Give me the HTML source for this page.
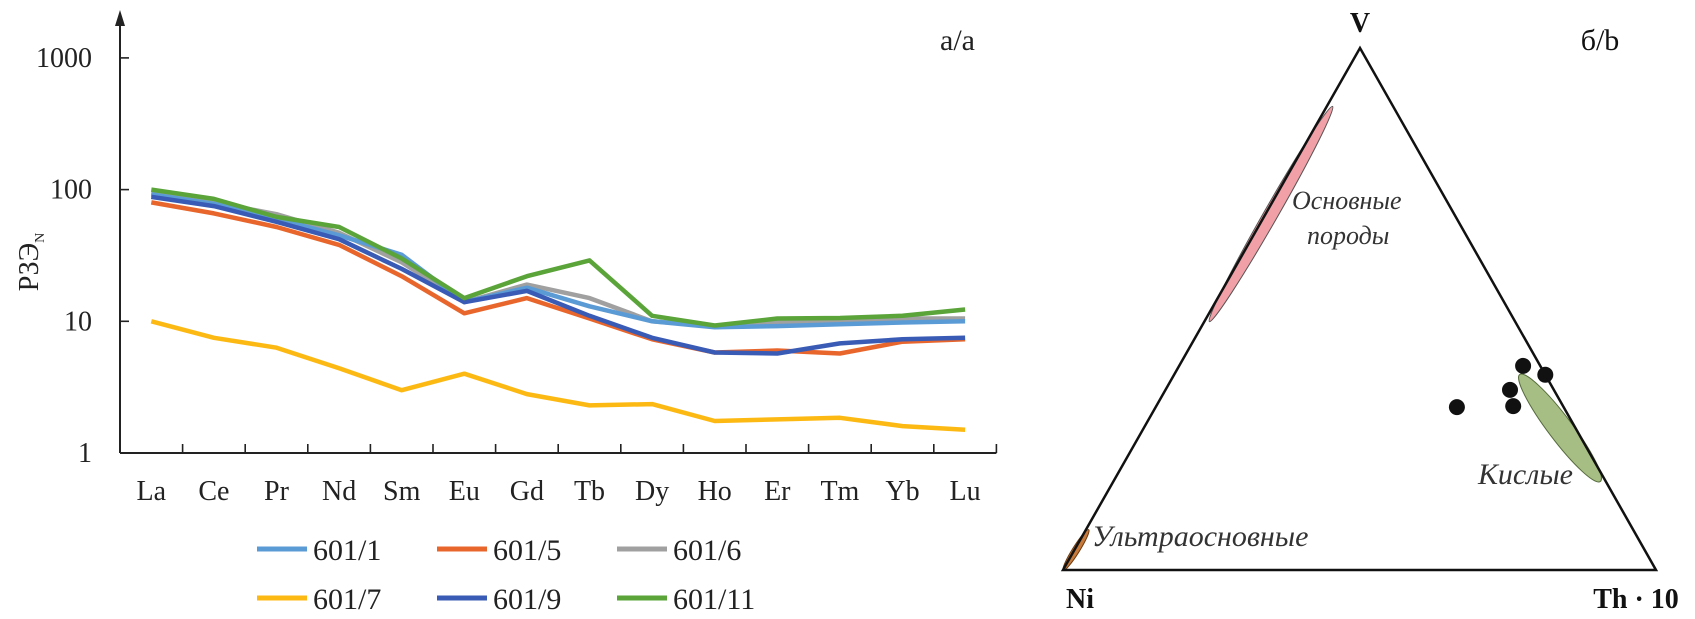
<!DOCTYPE html>
<html><head><meta charset="utf-8"><style>
html,body{margin:0;padding:0;background:#fff;}
svg{display:block;font-family:"Liberation Serif",serif;}
</style></head><body>
<svg width="1695" height="619" viewBox="0 0 1695 619">
<g id="chartA"></g>
<g id="chartB"></g>
</svg>
<script>
const categories = ["La","Ce","Pr","Nd","Sm","Eu","Gd","Tb","Dy","Ho","Er","Tm","Yb","Lu"];
const yTicks = [1,10,100,1000];
const yTickLabels = ["1","10","100","1000"];
const seriesNames = ["601/1","601/5","601/6","601/7","601/9","601/11"];
const s601_1 = [92,78,60,45,32,14,18,13,10,9,9.2,9.5,9.8,10];
const s601_5 = [80,66,52,38,22,11.5,15,10.5,7.3,5.8,6.0,5.7,7.0,7.3];
const s601_6 = [95,80,65,47,28,14,19,15,10,9.2,9.8,10,10.5,10.5];
const s601_7 = [10,7.5,6.3,4.4,3.0,4.0,2.8,2.3,2.35,1.75,1.8,1.85,1.6,1.5];
const s601_9 = [88,75,57,42,25,14,17,11,7.5,5.8,5.7,6.8,7.3,7.5];
const s601_11 = [100,85,62,52,30,15,22,29,11,9.3,10.5,10.6,11,12.3];
// ternary points: [Ni, V, Th*10] fractions
const ternPoints = [[0.18,0.312,0.508],[0.074,0.345,0.581],[0.084,0.314,0.602],[0.029,0.391,0.58],[0.0,0.374,0.626]];

const NS="http://www.w3.org/2000/svg";
function mk(tag,attrs,parent,text){const e=document.createElementNS(NS,tag);for(const k in attrs)e.setAttribute(k,attrs[k]);if(text!==undefined)e.textContent=text;parent.appendChild(e);return e;}

// ---- chart A
const A=document.getElementById('chartA');
const x0=120, step=62.6, yBase=453, dec=131.7;
const xPos=i=>x0+step*(i+0.5);
const yPos=v=>yBase-Math.log10(v)*dec;
let e;
e=mk('line',{x1:x0,y1:yBase,x2:x0+step*14,y2:yBase,stroke:'#222','stroke-width':2},A);


e=mk('line',{x1:x0,y1:yBase,x2:x0,y2:22,stroke:'#222','stroke-width':2},A);


e=mk('path',{d:`M${x0-5},26 L${x0},10 L${x0+5},26 Z`,fill:'#222'},A);


for(let k=1;k<=14;k++){
  e=mk('line',{x1:x0+step*k,y1:yBase,x2:x0+step*k,y2:yBase-9,stroke:'#222','stroke-width':1.6},A);
  
  
}
yTicks.forEach((v,i)=>{
  if(v>1){e=mk('line',{x1:x0,y1:yPos(v),x2:x0+9,y2:yPos(v),stroke:'#222','stroke-width':1.6},A);
  
  }
  e=mk('text',{x:x0-28,y:yPos(v)+9,'text-anchor':'end','font-size':28,fill:'#222'},A,yTickLabels[i]);
  
  
});
categories.forEach((c,i)=>{
  e=mk('text',{x:xPos(i),y:500,'text-anchor':'middle','font-size':28,fill:'#222'},A,c);
  
  
});
e=mk('text',{x:0,y:0,transform:'translate(38,262) rotate(-90)','text-anchor':'middle','font-size':28,fill:'#222'},A);


e.innerHTML='РЗЭ<tspan font-size="14" dy="6">N</tspan>';
e=mk('text',{x:940,y:50,'font-size':30,fill:'#222'},A,'a/a');



const allSeries=[s601_1,s601_5,s601_6,s601_7,s601_9,s601_11];
const colors=['#5b9bd5','#e8662c','#a0a0a0','#fdb913','#3a5bb5','#5aa43a'];
const drawOrder=[3,2,0,1,4,5];
drawOrder.forEach(si=>{
  const d=allSeries[si].map((v,i)=>(i?'L':'M')+xPos(i).toFixed(1)+','+yPos(v).toFixed(1)).join(' ');
  e=mk('path',{d:d,fill:'none',stroke:colors[si],'stroke-width':4.5,'stroke-linejoin':'round'},A);
  
  
});
// legend
const legX=[257,437,617], legY=[549,598];
seriesNames.forEach((n,i)=>{
  const lx=legX[i%3], ly=legY[Math.floor(i/3)];
  e=mk('line',{x1:lx,y1:ly,x2:lx+50,y2:ly,stroke:colors[i],'stroke-width':5},A);
  
  
  e=mk('text',{x:lx+56,y:ly+11,'font-size':30,fill:'#222'},A,n);
  
  
});

// ---- chart B
const B=document.getElementById('chartB');
const Ni=[1063,570], V=[1360,48], Th=[1656,570];
const tern=p=>[p[0]*Ni[0]+p[1]*V[0]+p[2]*Th[0], p[0]*Ni[1]+p[1]*V[1]+p[2]*Th[1]];
e=mk('ellipse',{cx:1271,cy:214,rx:124,ry:7,transform:'rotate(-60.2 1271 214)',fill:'#f2a0a8',stroke:'#555','stroke-width':1},B);


e=mk('ellipse',{cx:1560,cy:428,rx:67,ry:12,transform:'rotate(53 1560 428)',fill:'#a6be84',stroke:'#556b3a','stroke-width':1},B);


e=mk('ellipse',{cx:1076,cy:550,rx:24,ry:3.5,transform:'rotate(-58 1076 550)',fill:'#c87a3a',stroke:'#6a3a10','stroke-width':1},B);


e=mk('path',{d:`M${Ni[0]},${Ni[1]} L${V[0]},${V[1]} L${Th[0]},${Th[1]} Z`,fill:'none',stroke:'#111','stroke-width':2.5,'stroke-linejoin':'miter'},B);


ternPoints.forEach(p=>{
  const [cx,cy]=tern(p);
  e=mk('circle',{cx:cx.toFixed(1),cy:cy.toFixed(1),r:8,fill:'#111'},B);
  
  
});
const labs=[['V',1360,32,'middle',28,'bold','normal','vertex-label-v'],
 ['Ni',1080,608,'middle',28,'bold','normal','vertex-label-ni'],
 ['Th · 10',1636,608,'middle',28,'bold','normal','vertex-label-th'],
 ['б/b',1600,50,'middle',30,'normal','normal','panel-label-b'],
 ['Основные',1292,209,'start',26,'normal','italic','label-mafic'],
 ['породы',1307,244,'start',26,'normal','italic','label-mafic-2'],
 ['Кислые',1478,484,'start',30,'normal','italic','label-felsic'],
 ['Ультраосновные',1092,546,'start',30,'normal','italic','label-ultramafic']];
labs.forEach(l=>{
  e=mk('text',{x:l[1],y:l[2],'text-anchor':l[3],'font-size':l[4],'font-weight':l[5],'font-style':l[6],fill:l[6]=='italic'?'#333':'#111'},B,l[0]);
  
  
});
</script>
</body></html>
